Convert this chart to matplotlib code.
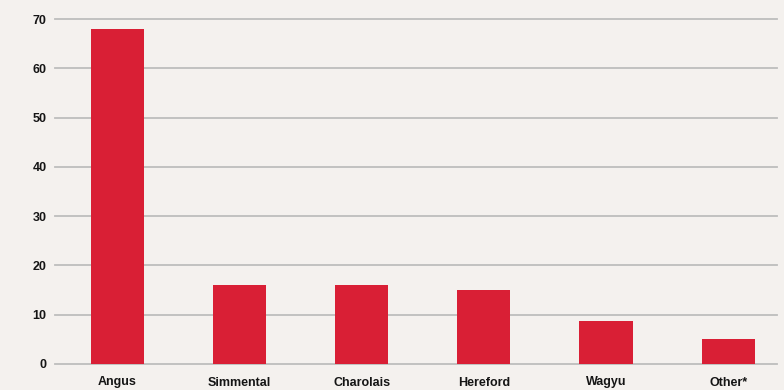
import matplotlib.pyplot as plt

# breeds and values
breeds = ['Angus', 'Simmental', 'Charolais', 'Hereford', 'Wagyu', 'Other*']
values = [68, 16, 16, 15, 8.7, 5]
yticks = [0, 10, 20, 30, 40, 50, 60, 70]

bg = '#f4f1ee'
red = '#d91f35'

plt.rcParams['font.family'] = ['Liberation Sans', 'DejaVu Sans']

fig = plt.figure(figsize=(7.84, 3.90), dpi=100, facecolor=bg)
ax = fig.add_axes([55 / 784, 1 - 364 / 390, 722 / 784, 345 / 390])
ax.set_facecolor(bg)

x = range(len(breeds))
ax.bar(x, values, width=0.435, color=red, zorder=3)

ax.set_xlim(-0.512, len(breeds) - 0.6)
ax.set_ylim(0, 70)
ax.set_yticks(yticks)
ax.set_xticks(list(x))
ax.set_xticklabels(breeds, fontsize=9, fontweight='bold', color='#151515')
ax.set_yticklabels([str(v) for v in yticks], fontsize=9, fontweight='bold', color='#151515')

ax.grid(axis='y', color='#bdbdbd', linewidth=1.3, zorder=0)
for ln in ax.get_ygridlines():
    ln.set_clip_on(False)
ax.tick_params(axis='both', length=0)
ax.tick_params(axis='y', pad=6)
ax.tick_params(axis='x', pad=9)
for s in ax.spines.values():
    s.set_visible(False)

fig.savefig('out.png', dpi=100, facecolor=bg)
